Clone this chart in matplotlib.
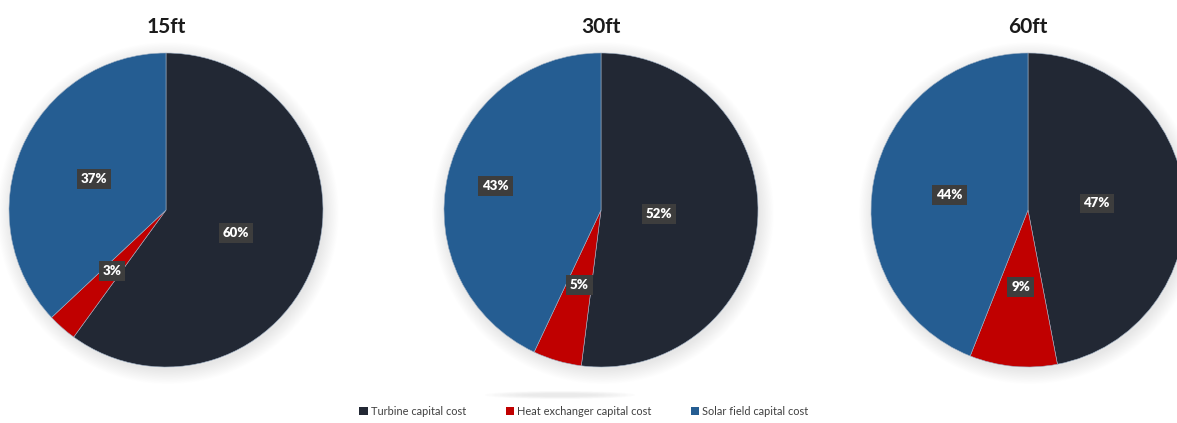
import matplotlib.pyplot as plt
from matplotlib.patches import Circle, Ellipse, Patch
import numpy as np

# Capital cost breakdown per collector spacing
spacings = ["15ft", "30ft", "60ft"]
components = ["Turbine capital cost", "Heat exchanger capital cost", "Solar field capital cost"]
turbine = [60, 52, 47]
heat_exchanger = [3, 5, 9]
solar_field = [37, 43, 44]

colors = ["#222834", "#c00000", "#255d92"]

# pie centres (px from left/top) and radius in px
W, H = 1177, 423
centres = [(166, 210), (601, 210), (1028, 210)]
radius = 157
# radial position of each percentage box (fraction of radius)
label_r = [[0.47, 0.52, 0.50], [0.37, 0.50, 0.69], [0.44, 0.49, 0.51]]

plt.rcParams["font.family"] = ["Lato", "DejaVu Sans"]
fig = plt.figure(figsize=(W / 100, H / 100), dpi=100)

for i, name in enumerate(spacings):
    cx, cy = centres[i]
    ax = fig.add_axes([(cx - radius) / W, (H - cy - radius) / H, 2 * radius / W, 2 * radius / H])

    # soft drop shadow around the pie
    for k in range(12):
        ax.add_patch(Circle((0.012, -0.02), 1.0 + 0.008 * k, color="#909090",
                            alpha=0.012, lw=0, zorder=0, clip_on=False))

    vals = [turbine[i], heat_exchanger[i], solar_field[i]]
    wedges, _ = ax.pie(vals, colors=colors, startangle=90, counterclock=False,
                       radius=1.0, wedgeprops=dict(edgecolor="#9fb0c4", linewidth=0.4))
    for w in wedges:
        w.set_zorder(2)
        w.set_clip_on(False)

    for j, (w, v) in enumerate(zip(wedges, vals)):
        theta = np.deg2rad((w.theta1 + w.theta2) / 2)
        r = label_r[i][j]
        ax.text(r * np.cos(theta), r * np.sin(theta), f"{v}%", ha="center", va="center",
                color="white", fontsize=9.5, fontweight="heavy", zorder=5,
                bbox=dict(boxstyle="square,pad=0.3", fc="#3d3d3d", ec="none"))

    ax.set_xlim(-1, 1)
    ax.set_ylim(-1, 1)
    ax.set_aspect("auto")
    ax.axis("off")

    fig.text(cx / W, 1 - 27 / H, name, ha="center", va="center",
             fontsize=15, fontweight="bold", color="#1a1a1a")

# faint shadow under the middle chart
shadow_ax = fig.add_axes([0, 0, 1, 1], zorder=-1)
shadow_ax.set_xlim(0, W)
shadow_ax.set_ylim(H, 0)
shadow_ax.axis("off")
for k in range(6):
    shadow_ax.add_patch(Ellipse((560, 395), 150 - 15 * k, 8 - k, color="#c0c0c0",
                                alpha=0.06, lw=0))

handles = [Patch(facecolor=c, edgecolor="none") for c in colors]
fig.legend(handles, components, loc="center", bbox_to_anchor=(584 / W, 1 - 411 / H),
           ncol=3, frameon=False, fontsize=7.9, handlelength=0.75, handleheight=0.75,
           handletextpad=0.3, columnspacing=3.6, labelcolor="#404040")

fig.savefig("out.png", dpi=100)
